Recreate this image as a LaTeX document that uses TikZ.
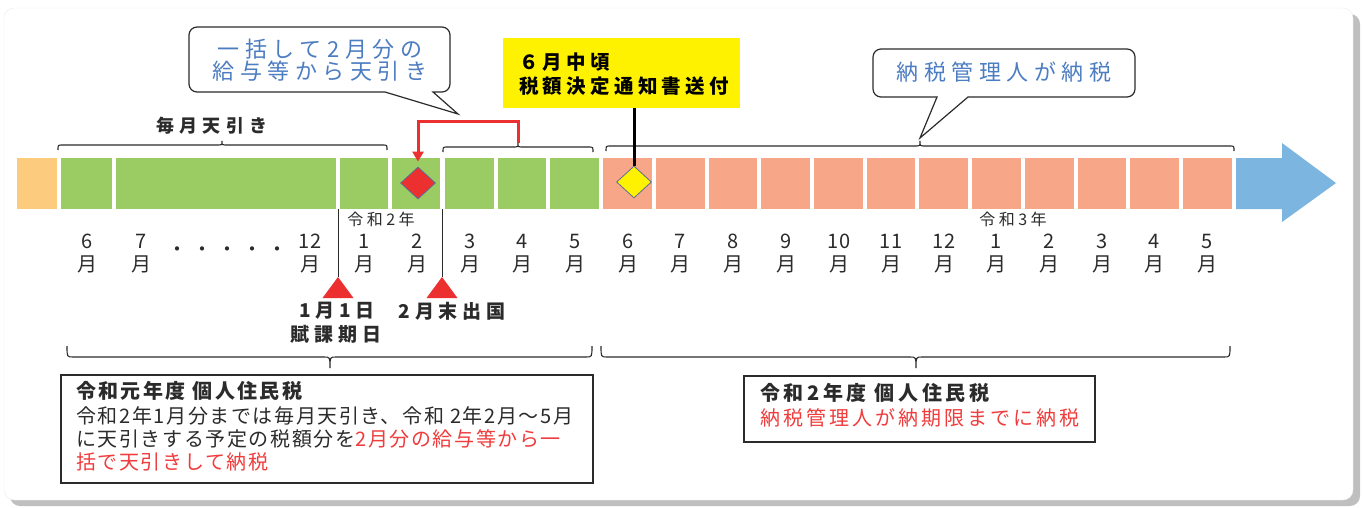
\documentclass[tikz,border=0pt]{standalone}
\usepackage{fontspec}
\setmainfont{Noto Sans CJK JP}
\newfontfamily\fcall{Noto Sans CJK JP}[LetterSpace=25]
\newfontfamily\fmai{Noto Sans CJK JP}[LetterSpace=30]
\newfontfamily\fyel{Noto Sans CJK JP}[LetterSpace=22]
\newfontfamily\fbxa{Noto Sans CJK JP}[LetterSpace=8]
\newfontfamily\fbxb{Noto Sans CJK JP}[LetterSpace=15]
\newfontfamily\fbxt{Noto Sans CJK JP}[LetterSpace=18]
\newfontfamily\fbxu{Noto Sans CJK JP}[LetterSpace=12]
\newfontfamily\fsm{Noto Sans CJK JP}[LetterSpace=22]
\newfontfamily\fdate{Noto Sans CJK JP}[LetterSpace=25]
\newfontfamily\fdots{Noto Sans CJK JP}[LetterSpace=25]
\usetikzlibrary{arrows.meta,shapes.geometric}
\definecolor{barG}{HTML}{9BCC63}
\definecolor{barO}{HTML}{FCCB7E}
\definecolor{barS}{HTML}{F7A688}
\definecolor{arrB}{HTML}{7BB5E0}
\definecolor{txtB}{HTML}{4C7DC2}
\definecolor{redA}{HTML}{EC3030}
\definecolor{txtR}{HTML}{F03C3C}
\definecolor{ylw}{HTML}{FFF200}
\definecolor{dk}{HTML}{2B2B2B}
\definecolor{edgeB}{HTML}{5A6E96}
\begin{document}
\begin{tikzpicture}[x=1pt,y=-1pt,
  mon/.style={inner sep=0pt, align=center, text=dk, font=\fontsize{20}{23}\selectfont},
  brace/.style={draw=dk, line width=1.1pt},
  call/.style={draw=dk, line width=1.2pt, fill=white},
  calltext/.style={inner sep=0pt, align=center, text=txtB, font=\fcall\fontsize{22}{22}\selectfont},
  marker/.style={diamond, draw=edgeB, line width=0.8pt, minimum width=35pt, minimum height=32pt, inner sep=0pt},
  lbl/.style={inner sep=0pt, text=dk},
  infobox/.style={draw=dk, line width=1.1pt, fill=white, inner sep=0pt},
  redtri/.style={fill=redA}
]
\useasboundingbox (0,0) rectangle (1362,507);
% panel
\fill[gray!50, rounded corners=10pt] (10,14) rectangle (1360,506);
\fill[white, draw=gray!15, rounded corners=10pt] (4,8) rectangle (1353,500);

% bar
\fill[barO] (17,158) rectangle (57,209);
\foreach \a/\b in {61/112,116/336,340/388,392/440,445/494,498/546,550/599}
  \fill[barG] (\a,158) rectangle (\b,209);
\foreach \a/\b in {603/652,656/705,709/757,761/810,814/863,867/915,919/968,972/1021,1025/1074,1078/1126,1130/1179,1183/1232}
  \fill[barS] (\a,158) rectangle (\b,209);
\fill[arrB] (1236,158) -- (1282,158) -- (1282,143) -- (1336,183) -- (1282,222) -- (1282,209) -- (1236,209) -- cycle;

% month labels
\foreach \x/\n [count=\i] in {87/6,141/7,310/12,364/1,417/2,470/3,522/4,575/5,628/6,680/7,733/8,786/9,839/10,891/11,944/12,996/1,1049/2,1102/3,1154/4,1207/5}
  \node[mon] (m\i) at (\x,254) {\n\\月};
\node[lbl, font=\fdots\fontsize{20}{20}\selectfont] (dots) at (227,252) {・・・・・};

% year labels
\node[lbl, font=\fsm\fontsize{16}{16}\selectfont] (y2) at (381,219) {令和2年};
\node[lbl, font=\fsm\fontsize{16}{16}\selectfont] (y3) at (1013,219) {令和3年};

% vertical lines and triangles
\coordinate (v1) at (338,209);
\coordinate (v2) at (442,209);
\coordinate (t1) at (338,277);
\coordinate (t2) at (442,277);
\draw[dk, line width=0.9pt] (v1) -- (t1);
\draw[dk, line width=0.9pt] (v2) -- (t2);
\fill[redtri] (t1) -- (353.5,298) -- (322.5,298) -- cycle;
\fill[redtri] (t2) -- (457.5,298) -- (426.5,298) -- cycle;
\node[lbl, font=\fdate\bfseries\fontsize{19}{19}\selectfont] (d1) at (337,311) {1月1日};
\node[lbl, font=\fdate\bfseries\fontsize{19}{19}\selectfont] (d2) at (336,334) {賦課期日};
\node[lbl, font=\fdate\bfseries\fontsize{19}{19}\selectfont] (d3) at (452,311) {2月末出国};

% top braces
\draw[brace] (58,150) .. controls (58,145) .. (62,145) -- (219,145) .. controls (222,145) .. (222,141) .. controls (222,145) .. (225,145) -- (383,145) .. controls (387,145) .. (387,150);
\node[lbl, font=\fmai\bfseries\fontsize{18}{18}\selectfont] (mai) at (212,126) {毎月天引き};
\coordinate (b2m) at (518,143);
\draw[brace] (443,152) .. controls (443,147) .. (447,147) -- (515,147) .. controls (518,147) .. (b2m) .. controls (518,147) .. (521,147) -- (589,147) .. controls (593,147) .. (593,152);
\coordinate (b3m) at (920,141);
\draw[brace] (606,151) .. controls (606,146) .. (610,146) -- (917,146) .. controls (920,146) .. (b3m) .. controls (920,146) .. (923,146) -- (1230,146) .. controls (1234,146) .. (1234,151);

% bottom braces
\draw[brace] (67,346) .. controls (67,357) .. (73,357) -- (324,357) .. controls (330,357) .. (330,368) .. controls (330,357) .. (336,357) -- (586,357) .. controls (592,357) .. (592,346);
\draw[brace] (601,346) .. controls (601,357) .. (607,357) -- (910,357) .. controls (916,357) .. (916,368) .. controls (916,357) .. (922,357) -- (1224,357) .. controls (1230,357) .. (1230,346);

% diamonds
\node[marker, fill=redA] (rd) at (418,183) {};
\node[marker, fill=ylw] (yd) at (634,182) {};

% red bracket arrow
\draw[redA, line width=3pt, -{Triangle[width=11pt,length=10pt]}, shorten >=5pt] (b2m) -- (518,121) -| (rd.north);

% yellow box
\node[fill=ylw, minimum width=237pt, minimum height=70pt, inner sep=0pt] (yb) at (621.5,73) {};
\node[lbl, anchor=west, align=left, text=black, font=\fyel\bfseries\fontsize{19.5}{24}\selectfont] (ybt) at (519,74) {６月中頃\\税額決定通知書送付};
\draw[black, line width=3pt] (yb.south -| yd.north) -- (yd.north);

% callout 1
\draw[call] (458,114) -- (385,92) [rounded corners=8pt] -- (189,92) -- (189,27) -- (450,27) -- (450,92) [sharp corners] -- (433,92) -- cycle;
\node[calltext] (c1) at (320,60) {一括して2月分の\\給与等から天引き};
% callout 2
\draw[call] (b3m) ++(0,-3) -- (937,97) [rounded corners=8pt] -- (873,97) -- (873,49) -- (1135,49) -- (1135,97) [sharp corners] -- (968,97) -- cycle;
\node[calltext] (c2) at (1004,72) {納税管理人が納税};

% info boxes
\node[infobox, minimum width=532pt, minimum height=108pt] (bx1) at (327,429) {};
\node[lbl, anchor=north west, align=left, text=dk, font=\fbxa\fontsize{20}{23.2}\selectfont] (bx1t) at (76,381)
  {{\fbxu\bfseries 令和元年度 個人住民税}\\[2pt]
   令和2年1月分までは毎月天引き、令和 2年2月～5月\\
   に天引きする予定の税額分を\textcolor{txtR}{2月分の給与等から一}\\
   \textcolor{txtR}{括で天引きして納税}};
\node[infobox, minimum width=351pt, minimum height=66pt] (bx2) at (919.5,409) {};
\node[lbl, anchor=north west, align=left, text=dk, font=\fbxb\fontsize{20}{25}\selectfont] (bx2t) at (760,383)
  {{\fbxt\bfseries 令和2年度 個人住民税}\\
   \textcolor{txtR}{納税管理人が納期限までに納税}};
\end{tikzpicture}
\end{document}
